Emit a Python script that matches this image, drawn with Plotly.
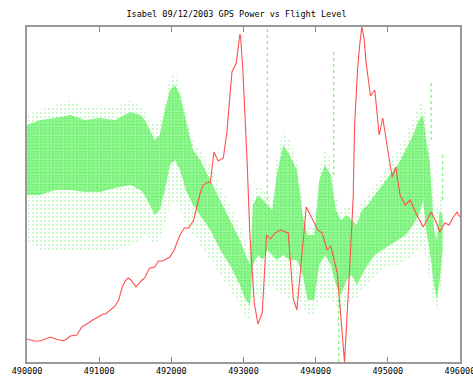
import plotly.graph_objects as go

# ---- red line (flight level), x in axis units, y in arbitrary units ----
red_x = [490000, 490100, 490180, 490260, 490320, 490400, 490500, 490550, 490600, 490690,
         490730, 490760, 490850, 490910, 491010, 491050, 491090, 491150, 491220, 491270,
         491320, 491360, 491400, 491440, 491510, 491580, 491630, 491700, 491770, 491820,
         491880, 491980, 492040, 492080, 492120, 492180, 492240, 492310, 492400, 492440,
         492510, 492540, 492560, 492590, 492650, 492720, 492770, 492840, 492900, 492910,
         492950, 492960, 492990, 493050, 493090, 493150, 493200, 493260, 493320, 493370,
         493440, 493510, 493620, 493690, 493740, 493870, 493950, 494030, 494090, 494160,
         494210, 494300, 494350, 494400, 494470, 494520, 494540, 494580, 494610, 494640,
         494670, 494700, 494760, 494820, 494880, 494930, 495000, 495060, 495110, 495170,
         495240, 495310, 495390, 495490, 495600, 495670, 495720, 495790, 495850, 495900,
         495960, 496000]
red_y = [23, 21, 21, 23, 25, 23, 21, 23, 26, 27,
         31, 35, 39, 42, 46, 48, 48, 52, 56, 62,
         75, 81, 84, 82, 75, 81, 84, 94, 95, 101,
         101, 105, 112, 120, 127, 134, 134, 142, 169, 177,
         180, 179, 190, 210, 201, 204, 230, 290, 299, 304,
         328, 325, 294, 200, 125, 59, 38, 49, 127, 123,
         129, 132, 129, 63, 52, 155, 144, 132, 129, 112,
         116, 89, 44, 0, 92, 165, 237, 292, 317, 335,
         324, 299, 266, 272, 227, 244, 212, 185, 195, 167,
         157, 162, 149, 135, 150, 140, 130, 139, 137, 144,
         150, 145]

# ---- green cloud (GPS power): envelope of the scatter ----
g_x = [490000, 490180, 490390, 490600, 490800, 491010, 491220, 491430, 491570, 491630,
       491700, 491770, 491840, 491910, 491980, 492050, 492120, 492200, 492300, 492400,
       492540, 492680, 492810, 492950, 493030, 493090, 493130, 493200, 493270, 493330,
       493400, 493460, 493550, 493640, 493740, 493820, 493890, 493980, 494050, 494130,
       494210, 494280, 494350, 494430, 494500, 494570, 494640, 494720, 494820, 494920,
       495030, 495140, 495250, 495350, 495430, 495490, 495530, 495580, 495640, 495680,
       495720, 495760]
g_outer_top = [247, 252, 257, 262, 254, 257, 254, 262, 257, 252,
               242, 237, 242, 262, 284, 290, 277, 252, 222, 212,
               197, 177, 157, 137, 122, 112, 167, 177, 172, 167,
               162, 202, 232, 222, 202, 162, 137, 137, 192, 212,
               202, 167, 152, 157, 152, 147, 162, 167, 177, 187,
               202, 212, 227, 242, 257, 262, 242, 222, 162, 152,
               172, 162]
g_core_top = [237, 242, 244, 247, 242, 244, 242, 250, 247, 242,
              232, 222, 227, 252, 272, 277, 267, 242, 212, 202,
              182, 162, 142, 122, 107, 97, 157, 167, 162, 157,
              152, 187, 217, 207, 192, 147, 127, 127, 182, 197,
              187, 152, 142, 147, 142, 137, 152, 157, 167, 177,
              187, 197, 212, 227, 242, 247, 222, 202, 132, 122,
              152, 147]
g_core_bot = [167, 167, 172, 172, 170, 170, 174, 177, 172, 167,
              157, 147, 152, 172, 197, 202, 192, 172, 157, 147,
              132, 112, 97, 77, 62, 57, 97, 107, 102, 112,
              107, 102, 107, 102, 102, 87, 62, 62, 97, 107,
              97, 77, 67, 82, 87, 77, 87, 97, 107, 112,
              117, 122, 127, 137, 147, 162, 132, 112, 77, 62,
              82, 112]
g_outer_bot = [122, 112, 112, 112, 112, 112, 112, 117, 122, 127,
               122, 117, 122, 137, 157, 162, 152, 137, 127, 117,
               102, 87, 72, 57, 44, 44, 62, 67, 62, 72,
               77, 72, 67, 62, 62, 57, 47, 47, 62, 62,
               62, 57, 52, 57, 62, 62, 72, 77, 87, 92,
               97, 97, 102, 107, 112, 117, 102, 82, 57, 52,
               62, 92]

# thin isolated streaks of points
s_x = [493330, 494250, 494320, 495600, 495760]
s_top = [335, 313, 72, 279, 209]
s_bot = [162, 187, 0, 222, 162]

x_ticks = [490000, 491000, 492000, 493000, 494000, 495000, 496000]
x_labels = ["490000", "491000", "492000", "493000", "494000", "495000", "496000"]

fig = go.Figure()

fig.add_trace(go.Scatter(x=g_x, y=g_outer_bot, mode="lines", line=dict(width=0),
                         showlegend=False, hoverinfo="skip"))
fig.add_trace(go.Scatter(x=g_x, y=g_outer_top, mode="lines", line=dict(width=0),
                         fill="tonexty", fillcolor="rgba(62,238,62,0.10)",
                         fillpattern=dict(shape=".", fgcolor="rgba(62,238,62,0.7)",
                                          bgcolor="rgba(255,255,255,0)", size=4, solidity=0.2),
                         showlegend=False, hoverinfo="skip"))
fig.add_trace(go.Scatter(x=g_x, y=g_core_bot, mode="lines", line=dict(width=0),
                         showlegend=False, hoverinfo="skip"))
fig.add_trace(go.Scatter(x=g_x, y=g_core_top, mode="lines", line=dict(width=0),
                         fill="tonexty", fillcolor="rgba(62,238,62,0.55)",
                         fillpattern=dict(shape=".", fgcolor="#44ee44",
                                          bgcolor="rgba(62,238,62,0.45)", size=3, solidity=0.55),
                         showlegend=False, hoverinfo="skip"))

sx, sy = [], []
for x, t, b in zip(s_x, s_top, s_bot):
    sx += [x, x, None]
    sy += [b, t, None]
fig.add_trace(go.Scatter(x=sx, y=sy, mode="lines",
                         line=dict(color="rgba(62,238,62,0.7)", width=1.2, dash="dot"),
                         showlegend=False, hoverinfo="skip"))

fig.add_trace(go.Scatter(x=red_x, y=red_y, mode="lines",
                         line=dict(color="#ff5050", width=1.1),
                         showlegend=False))

fig.update_layout(
    width=473, height=379,
    margin=dict(l=27, r=13, t=27, b=17, autoexpand=False),
    paper_bgcolor="white", plot_bgcolor="white",
    title=dict(text="Isabel 09/12/2003 GPS Power vs Flight Level",
               x=0.5, xanchor="center", y=1 - 14 / 379, yanchor="middle", yref="container",
               font=dict(family="DejaVu Sans Mono", size=8.5, color="black")),
    xaxis=dict(range=[489999.5, 496000.5], tickvals=x_ticks, ticktext=x_labels,
               ticks="inside", ticklen=5, tickcolor="#888", tickwidth=1,
               showline=True, linecolor="#999", linewidth=1.5, mirror="allticks",
               showgrid=False, zeroline=False, automargin=False, ticklabeloverflow="allow",
               tickfont=dict(family="DejaVu Sans Mono", size=8.5, color="black")),
    yaxis=dict(range=[0, 335], showticklabels=False, ticks="",
               showline=True, linecolor="#999", linewidth=2, mirror=True,
               showgrid=False, zeroline=False, automargin=False),
)

fig.write_html("out.html", config={"displayModeBar": False},
               post_script="document.body.style.margin='0';document.body.style.overflow='hidden';")
